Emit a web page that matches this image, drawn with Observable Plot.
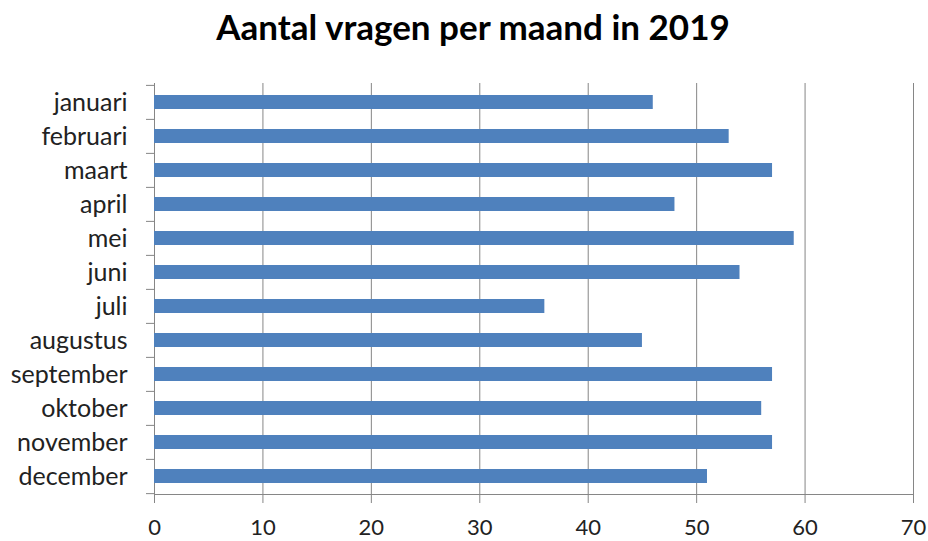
<!DOCTYPE html>
<html>
<head>
<meta charset="utf-8">
<script src="https://cdn.jsdelivr.net/npm/d3@7"></script>
<script src="https://cdn.jsdelivr.net/npm/@observablehq/plot@0.6"></script>
<style>
  html, body { margin: 0; padding: 0; background: #fff; }
  #wrap { position: relative; width: 928px; height: 541px; }
  #title { position: absolute; left: 9px; top: 6px; width: 928px; text-align: center;
    font-family: Lato, sans-serif; font-weight: bold; font-size: 35px; line-height: 40px; color: #000; }
</style>
</head>
<body>
<div id="wrap">
  <div id="title">Aantal vragen per maand in 2019</div>
</div>
<script>
const months = ["januari","februari","maart","april","mei","juni","juli","augustus","september","oktober","november","december"];
const counts = [46, 53, 57, 48, 59, 54, 36, 45, 57, 56, 57, 51];
const xTicks = [0, 10, 20, 30, 40, 50, 60, 70];

const data = months.map((m, i) => ({month: m, value: counts[i]}));
const gray = "#868686";
const mt = 83, mb = 47;
const step = (541 - mt - mb) / months.length;

const chart = Plot.plot({
  width: 928,
  height: 541,
  marginLeft: 154,
  marginRight: 15,
  marginTop: mt,
  marginBottom: mb,
  style: {fontFamily: "Lato, sans-serif", fontSize: "23px", color: "#222", background: "transparent"},
  x: {domain: [0, 70], ticks: xTicks},
  y: {domain: months, paddingInner: 0.59, paddingOuter: 0.295},
  marks: [
    Plot.gridX(xTicks, {stroke: gray, strokeOpacity: 1}),
    Plot.frame({anchor: "bottom", stroke: gray}),
    Plot.barX(data, {x: "value", y: "month", fill: "#4F81BD"}),
    Plot.axisX(xTicks, {tickSize: 9, stroke: gray, tickPadding: 16, label: null, fontSize: 22}),
    Plot.axisY({tickSize: 8, stroke: gray, tickFormat: () => "", dy: -step / 2, label: null}),
    Plot.axisY([months[months.length - 1]], {tickSize: 8, stroke: gray, tickFormat: () => "", dy: step / 2, label: null}),
    Plot.axisY({tickSize: 0, tickPadding: 27, label: null, fontSize: 25})
  ]
});
document.getElementById("wrap").appendChild(chart);
</script>
</body>
</html>
